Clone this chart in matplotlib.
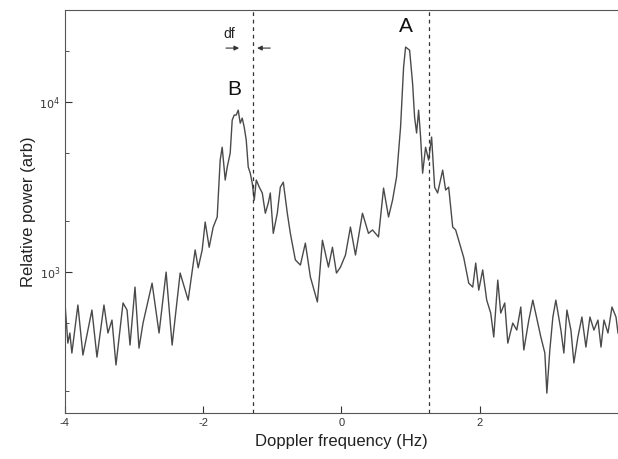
import matplotlib.pyplot as plt
from matplotlib.ticker import LogLocator, NullFormatter, FixedLocator

plt.rcParams['font.family'] = ['Liberation Sans', 'DejaVu Sans']

# spectrum: Doppler frequency (Hz) / relative power (arb)
freq = [-4.00, -3.957, -3.928, -3.899, -3.812, -3.739, -3.609, -3.536, -3.435, -3.377,
        -3.319, -3.261, -3.159, -3.101, -3.058, -2.986, -2.928, -2.870, -2.739, -2.638,
        -2.536, -2.449, -2.333, -2.217, -2.116, -2.072, -2.014, -1.971, -1.913, -1.855,
        -1.797, -1.754, -1.725, -1.681, -1.652, -1.609, -1.580, -1.551, -1.522, -1.493,
        -1.464, -1.435, -1.406, -1.377, -1.348, -1.319, -1.290, -1.261, -1.232, -1.188,
        -1.145, -1.101, -1.058, -1.029, -0.986, -0.928, -0.884, -0.841, -0.783, -0.739,
        -0.667, -0.594, -0.522, -0.449, -0.348, -0.275, -0.188, -0.130, -0.072, -0.014,
        0.058, 0.130, 0.203, 0.304, 0.391, 0.449, 0.536, 0.609, 0.681, 0.739,
        0.797, 0.855, 0.899, 0.928, 0.986, 1.029, 1.058, 1.087, 1.116, 1.145,
        1.174, 1.217, 1.261, 1.304, 1.348, 1.391, 1.464, 1.507, 1.551, 1.609,
        1.652, 1.696, 1.768, 1.841, 1.899, 1.942, 1.986, 2.043, 2.101, 2.159,
        2.203, 2.261, 2.304, 2.362, 2.406, 2.478, 2.536, 2.594, 2.638, 2.710,
        2.768, 2.841, 2.884, 2.942, 2.971, 3.014, 3.058, 3.101, 3.174, 3.217,
        3.261, 3.319, 3.362, 3.420, 3.478, 3.536, 3.594, 3.652, 3.710, 3.754,
        3.797, 3.855, 3.913, 3.971, 4.000]
power = [667, 382, 438, 334, 640, 325, 598, 316, 640, 438,
         522, 284, 658, 598, 372, 816, 357, 501, 861, 438,
         1000, 372, 987, 684, 1350, 1060, 1350, 1970, 1400, 1840,
         2110, 4560, 5430, 3480, 4150, 5010, 7840, 8390, 8390, 8970,
         7520, 8050, 7120, 5980, 4150, 3820, 3340, 2650, 3480, 3160,
         2920, 2220, 2550, 2920, 1690, 2220, 3160, 3380, 2220, 1690,
         1180, 1100, 1480, 935, 667, 1540, 1070, 1400, 987, 1070,
         1260, 1840, 1260, 2220, 1690, 1770, 1610, 3120, 2110, 2650,
         3620, 7120, 16100, 21100, 20200, 12900, 8160, 6580, 8970, 6230,
         3820, 5430, 4560, 6230, 3160, 2920, 3980, 3040, 3160, 1840,
         1770, 1540, 1220, 861, 816, 1130, 783, 1030, 684, 574,
         415, 897, 574, 658, 382, 501, 456, 623, 348, 522,
         684, 501, 415, 334, 194, 348, 544, 684, 456, 334,
         598, 456, 292, 415, 544, 362, 544, 456, 522, 362,
         522, 438, 623, 544, 438]

cutoffs = [-1.28, 1.26]
x_ticks = [-4, -2, 0, 2]
x_labels = ['-4', '-2', '0', '2']
y_ticks = [1e3, 1e4]
y_labels = ['$10^3$', '$10^4$']

fig = plt.figure(figsize=(6.18, 4.59), dpi=100)
ax = fig.add_axes([0.105, 0.100, 0.895, 0.878])

ax.plot(freq, power, color='#4a4a4a', lw=1.0)
for c in cutoffs:
    ax.axvline(c, color='#333333', lw=0.9, ls=(0, (3, 3)))

ax.set_yscale('log')
ax.set_xlim(-4, 4)
ax.set_ylim(148, 34800)
ax.set_xticks(x_ticks)
ax.set_xticklabels(x_labels)
ax.yaxis.set_major_locator(FixedLocator(y_ticks))
ax.set_yticklabels(y_labels)
ax.yaxis.set_minor_locator(LogLocator(base=10, subs=[2, 5]))
ax.yaxis.set_minor_formatter(NullFormatter())
ax.tick_params(which='both', direction='in', labelsize=8, colors='#333333')
ax.tick_params(which='major', length=5)
ax.tick_params(which='minor', length=3)
ax.spines['right'].set_visible(False)
for s in ['left', 'top', 'bottom']:
    ax.spines[s].set_color('#555555')

ax.set_xlabel('Doppler frequency (Hz)', fontsize=12, color='#222222', labelpad=4)
ax.set_ylabel('Relative power (arb)', fontsize=12, color='#222222', labelpad=2)

ax.text(0.93, 27700, 'A', fontsize=15, ha='center', va='center', color='#111111')
ax.text(-1.55, 11800, 'B', fontsize=15, ha='center', va='center', color='#111111')
ax.text(-1.62, 25100, 'df', fontsize=10, ha='center', va='center', color='#222222')
ax.annotate('', xy=(-1.44, 20800), xytext=(-1.71, 20800),
            arrowprops=dict(arrowstyle='-|>', color='#333333', lw=0.8, mutation_scale=7))
ax.annotate('', xy=(-1.26, 20800), xytext=(-0.99, 20800),
            arrowprops=dict(arrowstyle='-|>', color='#333333', lw=0.8, mutation_scale=7))

fig.savefig('out.png', dpi=100)
